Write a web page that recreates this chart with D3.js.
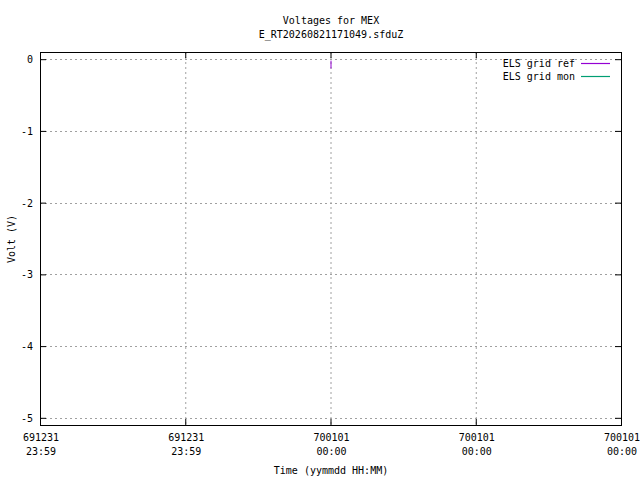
<!DOCTYPE html>
<html>
<head>
<meta charset="utf-8">
<script src="https://cdn.jsdelivr.net/npm/d3@7"></script>
<style>
    body { margin: 0; background: #fff; }
    text { font-family: "DejaVu Sans Mono", monospace; font-size: 10px; fill: #000; }
</style>
</head>
<body>
<div id="chart"></div>
<script>
// data (time in seconds from 1970-01-01 00:00 UTC)
var titleLines = ['Voltages for MEX', 'E_RT20260821171049.sfduZ'];
var seriesNames = ['ELS grid ref', 'ELS grid mon'];
var seriesColors = ['#9400d3', '#009e73'];
var refTimes = [0, 0];
var refVolts = [-0.02, -0.13];
var monTimes = [];
var monVolts = [];
var yTicks = [0, -1, -2, -3, -4, -5];
var xTicks = [-1, -0.5, 0, 0.5, 1];

var width = 640,
    height = 480,
    margin = { left: 40, right: 19, top: 52, bottom: 55 };

var svg = d3.select('#chart').append('svg')
    .attr('width', width)
    .attr('height', height);

var x = d3.scaleLinear()
    .domain([-1, 1])
    .range([margin.left, width - margin.right]);
var y = d3.scaleLinear()
    .domain([-5.1, 0.1])
    .range([height - margin.bottom, margin.top]);

var fmtDay = d3.utcFormat('%y%m%d'),
    fmtTime = d3.utcFormat('%H:%M');
function toDate(s) { return new Date(Math.floor(s) * 1000); }

// grid
var grid = svg.append('g').attr('stroke', '#a0a0a0').attr('stroke-dasharray', '2,3');
grid.selectAll('.gx').data(xTicks).enter().append('line')
    .attr('x1', function(d) { return x(d) + 0.5; })
    .attr('x2', function(d) { return x(d) + 0.5; })
    .attr('y1', y.range()[1])
    .attr('y2', y.range()[0]);
grid.selectAll('.gy').data(yTicks).enter().append('line')
    .attr('x1', x.range()[0])
    .attr('x2', x.range()[1])
    .attr('y1', function(d) { return Math.round(y(d)) + 0.5; })
    .attr('y2', function(d) { return Math.round(y(d)) + 0.5; });

// series
function pts(ts, vs) {
    return ts.map(function(t, i) { return [t, vs[i]]; });
}
var line = d3.line()
    .x(function(d) { return x(d[0]) + 0.5; })
    .y(function(d) { return y(d[1]); });
[pts(refTimes, refVolts), pts(monTimes, monVolts)].forEach(function(p, i) {
    if (!p.length) return;
    svg.append('path').datum(p)
        .attr('d', line)
        .attr('fill', 'none')
        .attr('stroke', seriesColors[i])
        .attr('stroke-width', 1);
});

// axes (ticks inward and mirrored, like gnuplot)
var yAxisL = d3.axisRight(y).tickValues(yTicks).tickSize(6).tickFormat('');
var yAxisR = d3.axisLeft(y).tickValues(yTicks).tickSize(6).tickFormat('');
var xAxisB = d3.axisTop(x).tickValues(xTicks).tickSize(6).tickFormat('');
var xAxisT = d3.axisBottom(x).tickValues(xTicks).tickSize(6).tickFormat('');
[[yAxisL, 'translate(' + x.range()[0] + ',0)'],
 [yAxisR, 'translate(' + x.range()[1] + ',0)'],
 [xAxisB, 'translate(0,' + y.range()[0] + ')'],
 [xAxisT, 'translate(0,' + y.range()[1] + ')']].forEach(function(a) {
    var g = svg.append('g').attr('transform', a[1]).call(a[0]);
    g.select('.domain').remove();
    g.selectAll('line').attr('stroke', '#000');
});

// border
svg.append('rect')
    .attr('x', x.range()[0] + 0.5)
    .attr('y', y.range()[1] + 0.5)
    .attr('width', x.range()[1] - x.range()[0])
    .attr('height', y.range()[0] - y.range()[1])
    .attr('fill', 'none')
    .attr('stroke', '#000');

// tick labels
svg.selectAll('.ylab').data(yTicks).enter().append('text')
    .attr('x', 33)
    .attr('y', function(d) { return y(d) + 4; })
    .attr('text-anchor', 'end')
    .text(function(d) { return d; });
var xl = svg.selectAll('.xlab').data(xTicks).enter().append('text')
    .attr('text-anchor', 'middle')
    .attr('y', 441);
xl.append('tspan')
    .attr('x', function(d) { return x(d) + 1; })
    .text(function(d) { return fmtDay(toDate(d)); });
xl.append('tspan')
    .attr('x', function(d) { return x(d) + 1; })
    .attr('dy', 14)
    .text(function(d) { return fmtTime(toDate(d)); });

// titles
svg.selectAll('.title').data(titleLines).enter().append('text')
    .attr('x', 331)
    .attr('y', function(d, i) { return 24 + i * 14; })
    .attr('text-anchor', 'middle')
    .text(function(d) { return d; });
svg.append('text')
    .attr('x', 331)
    .attr('y', 474)
    .attr('text-anchor', 'middle')
    .text('Time (yymmdd HH:MM)');
svg.append('text')
    .attr('transform', 'translate(15,239) rotate(-90)')
    .attr('text-anchor', 'middle')
    .text('Volt (V)');

// legend
var leg = svg.selectAll('.leg').data(seriesNames).enter().append('g')
    .attr('transform', function(d, i) { return 'translate(0,' + (63 + i * 13) + ')'; });
leg.append('text')
    .attr('x', 575)
    .attr('y', 4)
    .attr('text-anchor', 'end')
    .text(function(d) { return d; });
leg.append('line')
    .attr('x1', 581)
    .attr('x2', 610)
    .attr('y1', 0.5)
    .attr('y2', 0.5)
    .attr('stroke', function(d, i) { return seriesColors[i]; })
    .attr('stroke-width', 1.2);
</script>
</body>
</html>
